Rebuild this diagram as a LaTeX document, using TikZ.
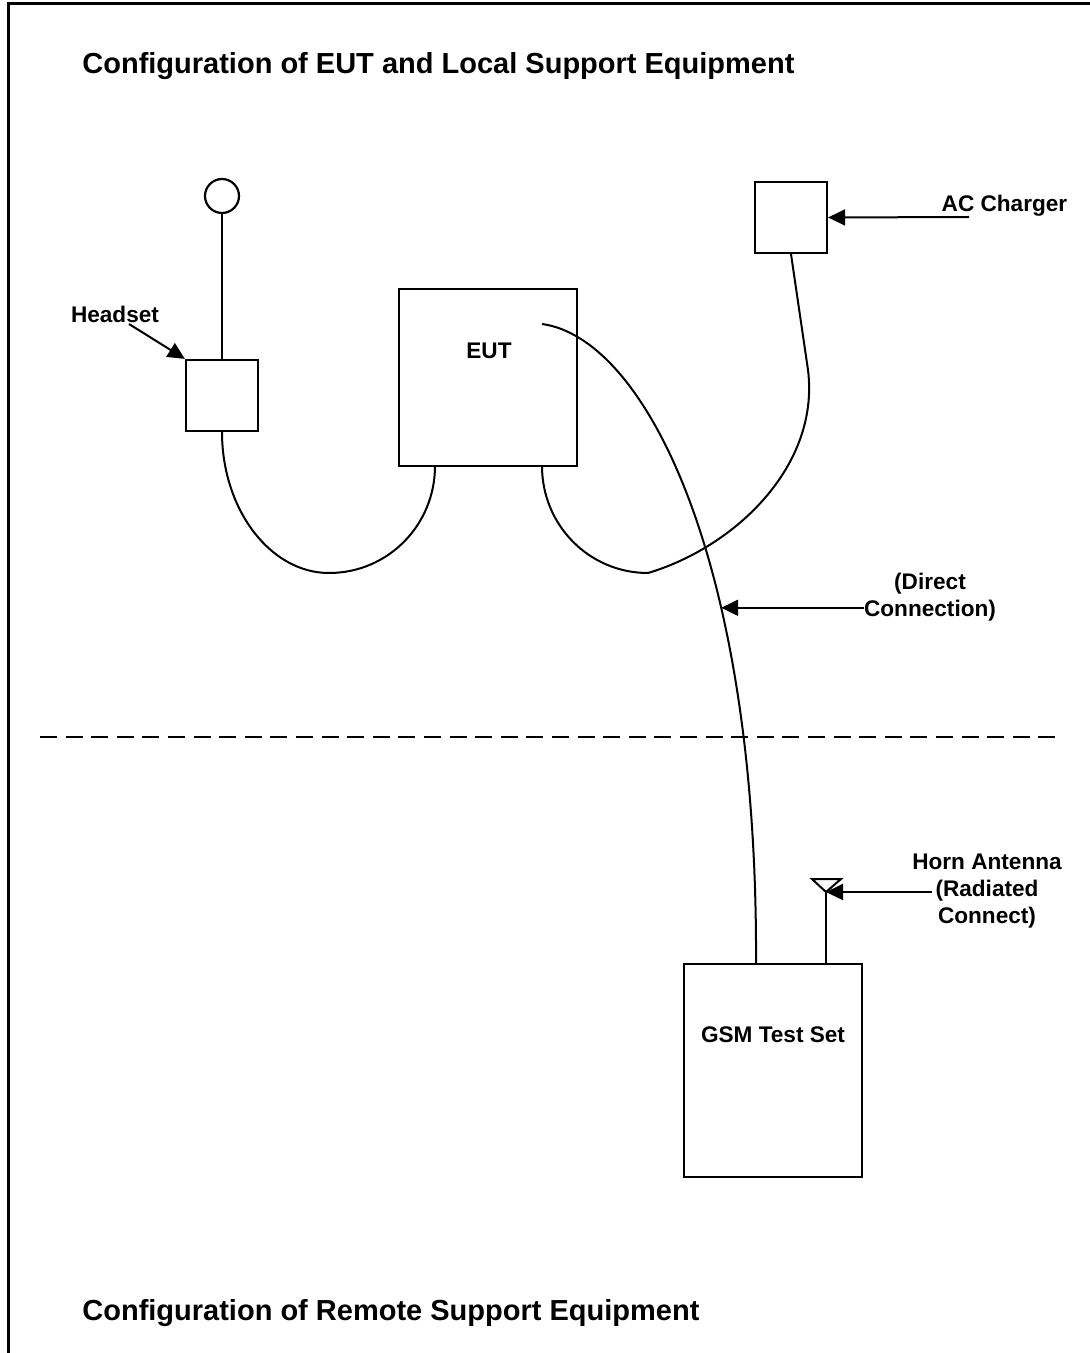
\documentclass[tikz,border=0pt]{standalone}
\usepackage{fontspec}
\setmainfont{Liberation Sans}
\usetikzlibrary{arrows.meta}

\tikzset{
  unit/.style={draw, line width=1.1pt, inner sep=0pt},
  lbl/.style={font=\fontsize{11.3}{13.5}\selectfont\bfseries, align=center, inner sep=0pt},
  heading/.style={font=\fontsize{14.5}{17}\selectfont\bfseries, anchor=base west, inner sep=0pt},
  pointer/.style={-{Triangle[length=8.5pt,width=8pt]}, line width=1pt},
  cable/.style={line width=1pt},
}

\begin{document}
\begin{tikzpicture}[x=0.5pt, y=-0.5pt]
\useasboundingbox (0,0) rectangle (1090,1353);
\draw[line width=1.5pt] (8,1353) -- (8,4) -- (1090,4);

\node[heading] (toptitle) at (82,74) {Configuration of EUT and Local Support Equipment};
\node[heading] (bottitle) at (82,1320) {Configuration of Remote Support Equipment};

% local side
\node[unit, circle, minimum size=17pt] (mic) at (222,196) {};
\node[unit, minimum width=36pt, minimum height=35.5pt] (hs) at (222,395.5) {};
\node[unit, minimum width=89pt, minimum height=88.5pt] (eut) at (488,377.5) {};
\node[unit, minimum width=36pt, minimum height=35.5pt] (chg) at (791,217.5) {};

\node[lbl] (eutlbl) at (489,351) {EUT};
\node[lbl] (hslbl) at (115,314) {Headset};
\node[lbl] (chglbl) at (1004.5,206) {AC Charger};
\node[lbl] (dirlbl) at (930,597) {(Direct\\Connection)};

\coordinate (eutL) at (435,466);
\coordinate (eutR) at (542,466);
\coordinate (eutC) at (542,324);
\coordinate (hstail) at (129,324);
\coordinate (chgtail) at (969,217);

\draw[cable] (mic) -- (hs);
\draw[cable] (hs.south) .. controls (222,509) and (270,573) .. (329,573)
  .. controls (388,573) and (435,525) .. (eutL);
\draw[cable] (eutR) .. controls (542,525) and (589,573) .. (648,573)
  .. controls (735,547) and (820,466) .. (808,370) -- (chg.south);

% remote side
\node[unit, minimum width=89pt, minimum height=106.5pt] (gsm) at (773,1070.5) {};
\node[lbl] (gsmlbl) at (773,1035) {GSM Test Set};
\node[lbl] (hornlbl) at (987,891) {Horn Antenna\\(Radiated\\Connect)};

\coordinate (gsmA) at (756,964);
\coordinate (gsmB) at (826,964);
\coordinate (horn) at (826,892);
\coordinate (horntail) at (932,892);

\draw[cable] (eutC) .. controls (645,338) and (758,560) .. (gsmA) coordinate[pos=0.65] (dirtip);
\draw[cable] (horn) -- ++(-14,-13) -- ++(29,0) -- cycle;
\draw[cable] (horn) -- (gsmB);

\draw[dash pattern=on 8.5pt off 4.3pt, line width=0.8pt] (40,737) coordinate (sepL) -- (1062,737) coordinate (sepR);

\draw[pointer] (hstail) -- (hs.north west);
\draw[pointer] (chgtail) -- (chg.east);
\draw[pointer] (dirlbl.west |- dirtip) -- (dirtip);
\draw[pointer] (horntail) -- (horn);
\end{tikzpicture}
\end{document}
